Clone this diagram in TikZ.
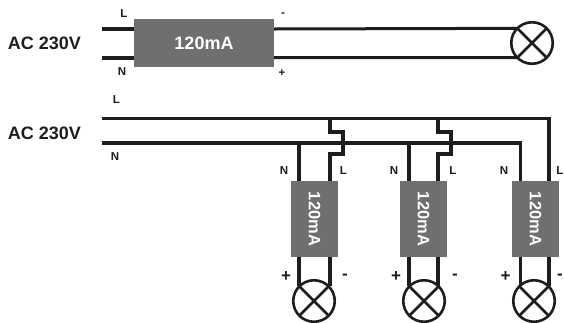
\documentclass[tikz,border=0pt]{standalone}
\usepackage{fontspec}
\setmainfont{Liberation Sans}
\definecolor{ink}{HTML}{1D1D1B}
\definecolor{boxgray}{HTML}{706F6E}
\tikzset{
  x=1pt,y=-1pt,
  wire/.style={draw=ink,line width=3.4pt,line join=miter},
  thinwire/.style={draw=ink,line width=3pt,line join=miter},
  driver/.style={fill=boxgray,draw=none,inner sep=0pt,outer sep=0pt,text=white,font=\bfseries\fontsize{18}{18}\selectfont},
  driverh/.style={driver,minimum width=140pt,minimum height=48pt},
  driverv/.style={driver,minimum width=47pt,minimum height=76pt,font=\bfseries\fontsize{16.5}{17}\selectfont},
  lamp/.style={circle,draw=ink,line width=2.6pt,minimum size=41.5pt,inner sep=0pt,outer sep=0pt},
  crossline/.style={draw=ink,line width=2.6pt},
  hugelabel/.style={text=ink,inner sep=0pt,font=\bfseries\fontsize{18}{18}\selectfont},
  pinlabel/.style={text=ink,inner sep=0pt,font=\bfseries\fontsize{11.5}{12}\selectfont},
  signlabel/.style={text=ink,inner sep=0pt,font=\bfseries\fontsize{17}{17}\selectfont}
}
\begin{document}
\begin{tikzpicture}
\useasboundingbox (0,0) rectangle (564,322);
% top circuit
\node[driverh] (d0) at (204,43) {120mA};
\node[lamp] (lamp0) at (532,43) {};
\coordinate (l0) at (102,29);
\coordinate (n0) at (102,58);
\coordinate (l0e) at (134,29);
\coordinate (n0e) at (134,58);
\coordinate (m0) at (274,29);
\coordinate (p0) at (274,57.5);
\draw[wire] (l0) -- (l0e);
\draw[wire] (n0) -- (n0e);
\draw[thinwire] (m0) -- (lamp0.135);
\draw[thinwire] (p0) -- (lamp0.225);
\draw[crossline] (lamp0.45) -- (lamp0.225);
\draw[crossline] (lamp0.135) -- (lamp0.315);
\node[hugelabel] (ac0) at (44.5,43) {AC 230V};
\node[pinlabel] (tL) at (124,14) {L};
\node[pinlabel] (tN) at (122,72) {N};
\node[pinlabel] (tm) at (283,15) {-};
\node[pinlabel] (tp) at (282,73) {+};
% bottom circuit
\node[driverv] (d1) at (314.5,219) {\rotatebox{-90}{120mA}};
\node[driverv] (d2) at (423.5,219) {\rotatebox{-90}{120mA}};
\node[driverv] (d3) at (535.5,219) {\rotatebox{-90}{120mA}};
\node[lamp] (lamp1) at (314,301) {};
\node[lamp] (lamp2) at (424,301) {};
\node[lamp] (lamp3) at (534,301) {};
\coordinate (busL) at (102,118.5);
\coordinate (busN) at (102,143);
\coordinate (busLe) at (549,118.5);
\coordinate (busNe) at (520.5,143);
\coordinate (d3L) at (549,181);
\coordinate (d3N) at (520.5,181);
\draw[wire] (busL) -- (busLe) -- (d3L);
\draw[wire] (busN) -- (busNe) -- (d3N);
% branch 1
\coordinate (a1) at (330,118.5);
\coordinate (b1) at (330,132);
\coordinate (c1) at (343,132);
\coordinate (e1) at (343,154);
\coordinate (f1) at (330,154);
\coordinate (g1) at (330,181);
\coordinate (h1) at (299,143);
\coordinate (i1) at (299,181);
\draw[wire] (a1) -- (b1) -- (c1) -- (e1) -- (f1) -- (g1);
\draw[wire] (h1) -- (i1);
% branch 2
\coordinate (a2) at (438,118.5);
\coordinate (b2) at (438,132);
\coordinate (c2) at (451,132);
\coordinate (e2) at (451,154);
\coordinate (f2) at (438,154);
\coordinate (g2) at (438,181);
\coordinate (h2) at (409,143);
\coordinate (i2) at (409,181);
\draw[wire] (a2) -- (b2) -- (c2) -- (e2) -- (f2) -- (g2);
\draw[wire] (h2) -- (i2);
% lamps
\foreach \k/\xl/\xr in {1/299/330,2/409/438,3/520.5/549}{
  \coordinate (lo\k) at (\xl,257);
  \coordinate (ro\k) at (\xr,257);
  \draw[wire] (lo\k) -- (\xl,286);
  \draw[wire] (ro\k) -- (\xr,286);
  \draw[crossline] (lamp\k.45) -- (lamp\k.225);
  \draw[crossline] (lamp\k.135) -- (lamp\k.315);
}
\node[hugelabel] (ac1) at (44.5,133) {AC 230V};
\node[pinlabel] (bL) at (116.5,100) {L};
\node[pinlabel] (bN) at (115,157) {N};
\foreach \k/\xn/\xl/\xp/\xm in {1/284/343.5/286/345,2/394/453/396/455,3/504/560/505.5/560}{
  \node[pinlabel] (nl\k) at (\xn,171) {N};
  \node[pinlabel] (ll\k) at (\xl,171) {L};
  \node[signlabel] (pl\k) at (\xp,277) {+};
  \node[signlabel] (ml\k) at (\xm,276.5) {-};
}
\end{tikzpicture}
\end{document}
